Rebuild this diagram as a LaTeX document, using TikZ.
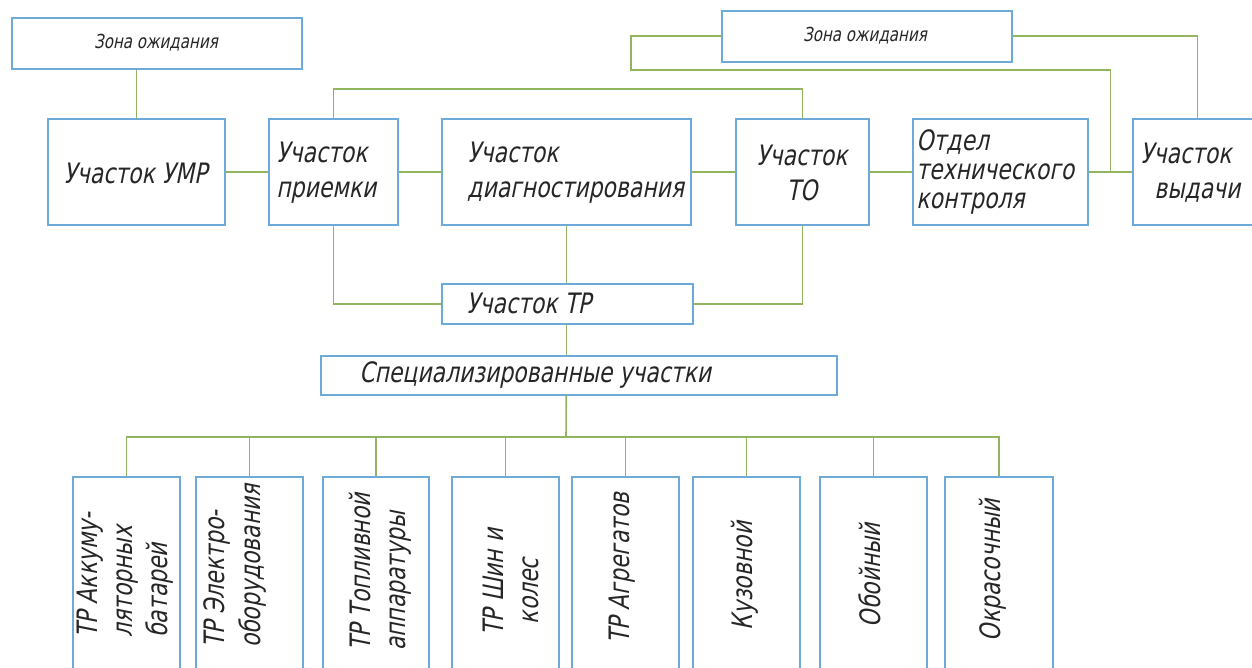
\documentclass[tikz,border=0pt]{standalone}
\usepackage{fontspec}
\newfontfamily\gost{DejaVu Sans}[FakeStretch=0.78, FakeSlant=0.2]
\definecolor{boxblue}{RGB}{110,170,215}
\definecolor{linegreen}{RGB}{145,180,95}
\tikzset{
  box/.style={draw=boxblue, line width=0.9pt, inner sep=0pt, fill=white},
  conn/.style={draw=linegreen, line width=0.9pt},
  lbl/.style={font=\gost\fontsize{16}{20}\selectfont, inner sep=0pt, text=black!85},
  small/.style={font=\gost\fontsize{11}{12}\selectfont, inner sep=0pt, text=black!85},
  vlbl/.style={lbl, rotate=90, align=left},
}
\newcommand{\pbox}[5]{%
  \node[box, anchor=north west, minimum width={(#4-#2)*0.02cm}, minimum height={(#5-#3)*0.02cm}] (#1) at (#2,#3) {};}
\begin{document}
\begin{tikzpicture}[x=0.02cm, y=-0.02cm]
\useasboundingbox (0,0) rectangle (1252,668);
\clip (0,0) rectangle (1252,668);
% top row
\pbox{zl}{11}{17}{301}{68}
\pbox{zr}{721}{10}{1011}{61}
\pbox{umr}{47}{118}{224}{224}
\pbox{pri}{268}{118}{397}{224}
\pbox{diag}{441}{118}{690}{224}
\pbox{to}{735}{118}{868}{224}
\pbox{otk}{912}{118}{1087}{224}
\pbox{vyd}{1132}{118}{1261}{224}
\pbox{tr}{441}{283}{692}{323}
\pbox{spec}{320}{355}{836}{394}
% bottom row
\pbox{b1}{72}{476}{179}{690}
\pbox{b2}{195}{476}{302}{690}
\pbox{b3}{322}{476}{428}{690}
\pbox{b4}{451}{476}{558}{690}
\pbox{b5}{571}{476}{678}{690}
\pbox{b6}{692}{476}{799}{690}
\pbox{b7}{819}{476}{926}{690}
\pbox{b8}{944}{476}{1052}{690}

% texts
\node[small] (tzl) at (156,43) {Зона ожидания};
\node[small] (tzr) at (865,36) {Зона ожидания};
\node[lbl] (tumr) at (135.5,173) {Участок УМР};
\node[lbl, align=left, anchor=west] (tpri) at (276,173) {Участок\\приемки};
\node[lbl, align=left, anchor=west] (tdiag) at (467,173) {Участок\\диагностирования};
\node[lbl, align=center] (tto) at (802,173) {Участок\\ТО};
\node[lbl, align=left, anchor=west, font=\gost\fontsize{16}{16.5}\selectfont] (totk) at (916,172) {Отдел\\технического\\контроля};
\node[lbl, align=left, anchor=west] (tvyd) at (1140,173) {Участок\\\hspace*{0.5em}выдачи};
\node[lbl, anchor=west] (ttr) at (466,303) {Участок ТР};
\node[lbl, anchor=west] (tspec) at (359,375) {Специализированные участки};

\node[vlbl] (t1) at (125,575) {ТР Аккуму-\\ляторных\\батарей};
\node[vlbl] (t2) at (235,566) {ТР Электро-\\оборудования};
\node[vlbl] (t3) at (380,572) {ТР Топливной\\аппаратуры};
\node[vlbl] (t4) at (511,582) {ТР Шин и\\\hspace*{0.4em}колес};
\node[vlbl] (t5) at (622,568) {ТР Агрегатов};
\node[vlbl] (t6) at (745,576) {Кузовной};
\node[vlbl] (t7) at (870,575) {Обойный};
\node[vlbl] (t8) at (993,570) {Окрасочный};

% connectors
\draw[conn] (umr.north) -- (umr.north |- zl.south);
\draw[conn] (umr.east) -- (pri.west);
\draw[conn] (pri.east) -- (diag.west);
\draw[conn] (diag.east) -- (to.west);
\draw[conn] (to.east) -- (otk.west);
\draw[conn] (otk.east) -- (vyd.west);
\path (otk.east) -- (vyd.west) coordinate[pos=0.5] (j);
\draw[conn] (pri.north) -- ++(0,-29) -| (to.north);
\draw[conn] (zr.west) -- ++(-90,0) -- ++(0,34) -| (j);
\draw[conn] (zr.east) -| (vyd.north);
\draw[conn] (pri.south) |- (tr.west);
\draw[conn] (tr.east) -| (to.south);
\draw[conn] (diag.south) -- (diag.south |- tr.north);
\draw[conn] (diag.south |- tr.south) -- (diag.south |- spec.north);
\coordinate (bus) at (566,437);
\draw[conn] (diag.south |- spec.south) -- (bus);
\draw[conn] (b1.north) -- (b1.north |- bus) -- (b8.north |- bus) -- (b8.north);
\foreach \b in {b2,b3,b4,b5,b6,b7}
  \draw[conn] (\b.north) -- (\b.north |- bus);
\end{tikzpicture}
\end{document}
